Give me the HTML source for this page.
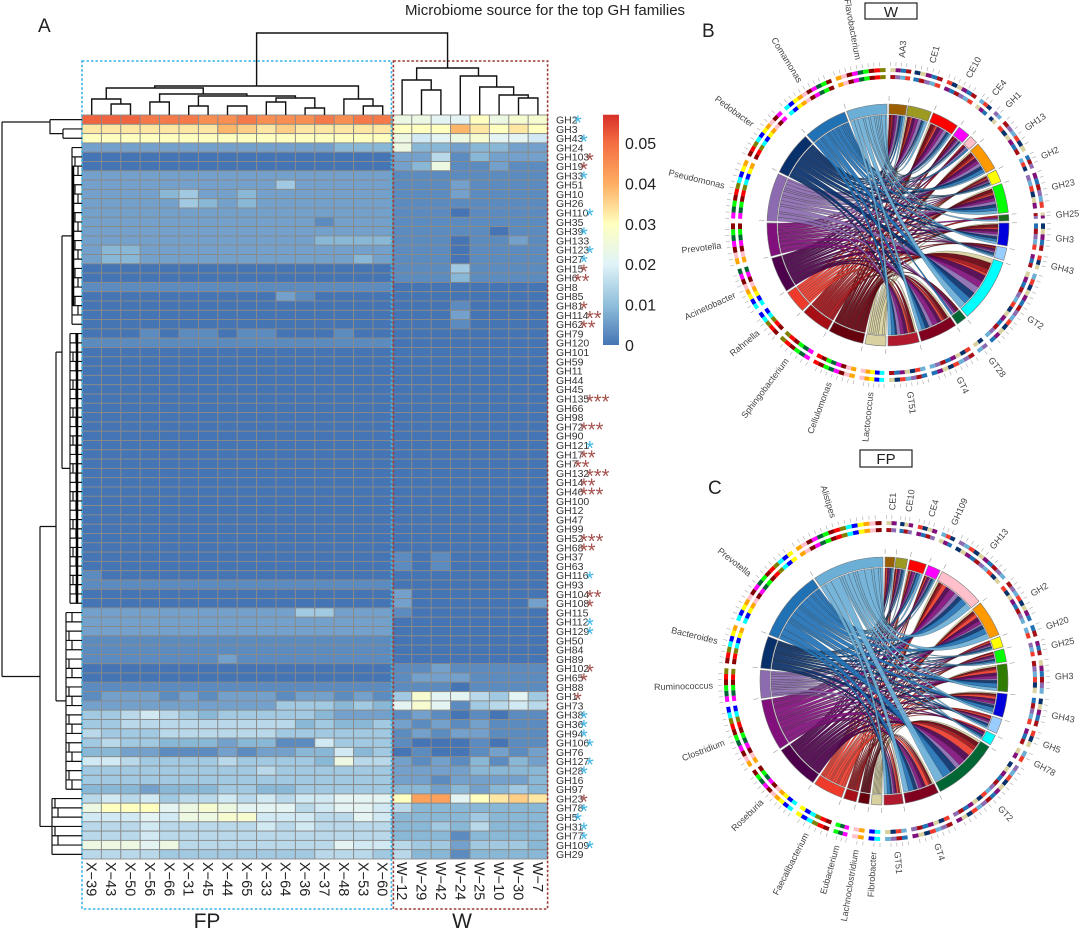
<!DOCTYPE html>
<html><head><meta charset="utf-8"><style>
html,body{margin:0;padding:0;background:#fff;}
svg{display:block;font-family:"Liberation Sans",sans-serif;}
</style></head><body>
<svg id="fig" width="1080" height="929" viewBox="0 0 1080 929" xmlns="http://www.w3.org/2000/svg">
<text x="545" y="15" font-size="15" text-anchor="middle" fill="#222">Microbiome source for the top GH families</text>
<text x="38" y="32" font-size="19" fill="#222">A</text>
<text x="702" y="37" font-size="19" fill="#222">B</text>
<text x="708" y="494" font-size="19" fill="#222">C</text>
<rect x="865" y="3" width="52" height="16" fill="#fff" stroke="#222" stroke-width="1.2"/>
<text x="891" y="17" font-size="15" text-anchor="middle" fill="#222">W</text>
<rect x="860" y="450" width="52" height="17" fill="#fff" stroke="#222" stroke-width="1.2"/>
<text x="886" y="464" font-size="15" text-anchor="middle" fill="#222">FP</text>
<g id="heat"></g>
<g id="chordW"></g>
<g id="chordFP"></g>
</svg>
<script>
// ---------- heatmap data ----------
const rowLabels=["GH2","GH3","GH43","GH24","GH103","GH19","GH33","GH51","GH10","GH26","GH110","GH35","GH39","GH133","GH123","GH27","GH15","GH6","GH8","GH85","GH81","GH114","GH62","GH79","GH120","GH101","GH59","GH11","GH44","GH45","GH135","GH66","GH98","GH72","GH90","GH121","GH17","GH7","GH132","GH14","GH46","GH100","GH12","GH47","GH99","GH52","GH68","GH37","GH63","GH116","GH93","GH104","GH108","GH115","GH112","GH129","GH50","GH84","GH89","GH102","GH65","GH88","GH1","GH73","GH38","GH36","GH94","GH106","GH76","GH127","GH28","GH16","GH97","GH23","GH78","GH5","GH31","GH77","GH109","GH29"];
const colLabels=["X-39","X-43","X-50","X-56","X-66","X-31","X-45","X-44","X-65","X-33","X-64","X-36","X-37","X-48","X-53","X-60","W-12","W-29","W-42","W-24","W-25","W-10","W-30","W-7"];
// each char = value in units of 0.003 (base-36 digit); 16 FP columns then 8 W columns
const fpValues=["hhhgggffgfffgfgg","bbbbbbbdcbcbbbbb","aaaaaaaaaaaaaaaa","2222222222222333","0000000000000000","0000000000000000","2222222222222222","2222222222422222","2222342232222222","2222243232222222","2222222222222222","2222222222221222","2222222222222222","2222222222223333","2332222222222222","2332222222222232","0000000000000000","0000000000000000","1111111111111111","0000000000210000","0000000000000000","0000000000000000","0000000000000000","0001011011000100","1111111111111111","0000000000000000","0000000000000000","0000000000000000","0000000000000000","0000000000000000","0000000000000000","0000000000000000","0000000000000000","0000000000000000","0000000000000000","0000000000000000","0000000000000000","0000000000000000","0000000000000000","0000000000000000","0000000000000000","0000000000000000","0000000000000000","0000000000000000","0000000000000000","0000000000000000","0000000000000000","0000000000000000","0000000000000000","1000000000000000","1111111111111111","0000000000000000","0000000000000000","2222222222244222","2222222222222222","2222222222222222","1111111111111111","1111111111111111","1111111211111111","0000000000000000","0000000000000000","1111111111111111","1222121222122121","2222222222444343","4456543444443222","4455555555534334","5444555555444444","4544333233116444","3322111212233634","6654444544443855","4444444445444444","4444444444444444","3332333443344444","5656455656566777","8aaa789877756776","6667688996665576","5556555556565555","5556555555555555","8887855555555766","5555444444445554"];
const wValues=["8877a899","aaadbaba","86789776","83323322","22513222","23811211","11111111","11121111","11121111","11111111","11101111","11111111","11111011","11101121","11101111","11101111","11141111","11131111","00000000","00000000","00010000","00020000","00010000","00000000","00000000","00000000","00000000","00000000","00000000","00000000","00000000","00000000","00000000","00000000","00000000","00000000","00000000","00000000","00000000","00000000","00000000","00000000","00000000","00000000","00000000","00000000","00000000","10100000","10100000","00000000","00000000","20000000","20000002","10000000","00000000","00000000","00000000","00000000","00000000","11211111","12221111","11101111","49775474","79714565","12101011","21212111","12122111","10001011","01001212","21213132","22223333","22122223","33232343","aee7abcb","53333333","33334333","33435333","33313333","54424443","53313333"];
const rowStars={"GH2":"b1","GH43":"b1","GH103":"r1","GH19":"r1","GH33":"b1","GH110":"b1","GH39":"b1","GH123":"b1","GH27":"b1","GH15":"r1","GH6":"r2","GH81":"r1","GH114":"r2","GH62":"r2","GH135":"r3","GH72":"r3","GH121":"b1","GH17":"r2","GH7":"r2","GH132":"r3","GH14":"r2","GH46":"r3","GH52":"r3","GH68":"r2","GH116":"b1","GH104":"r2","GH108":"r1","GH112":"b1","GH129":"b1","GH102":"r1","GH65":"r1","GH1":"r1","GH38":"b1","GH36":"b1","GH94":"b1","GH106":"b1","GH127":"b1","GH28":"b1","GH23":"r1","GH78":"b1","GH5":"b1","GH31":"b1","GH77":"b1","GH109":"b1"};
const cbTicks=[0,0.01,0.02,0.03,0.04,0.05];

const NS="http://www.w3.org/2000/svg";
function mk(tag,attrs,parent){const e=document.createElementNS(NS,tag);for(const k in attrs)e.setAttribute(k,attrs[k]);parent.appendChild(e);return e;}
const stops=[[0,[69,117,180]],[0.01,[145,191,219]],[0.02,[224,243,248]],[0.03,[255,255,191]],[0.04,[253,174,97]],[0.05,[244,109,67]],[0.057,[215,48,39]]];
function cmap(v){if(v<=0)return "rgb(69,117,180)";for(let i=1;i<stops.length;i++){if(v<=stops[i][0]){const a=stops[i-1],b=stops[i];const t=(v-a[0])/(b[0]-a[0]);const c=a[1].map((x,k)=>Math.round(x+(b[1][k]-x)*t));return `rgb(${c})`;}}return "rgb(215,48,39)";}

const heat=document.getElementById('heat');
const X0=82,Y0=115,CW=19.4,RH=9.3;
const xCol=i=>X0+i*CW, yRow=i=>Y0+i*RH, rc=i=>Y0+i*RH+RH/2;
rowLabels.forEach((lab,r)=>{
  const s=(fpValues[r]+wValues[r]);
  for(let c=0;c<colLabels.length;c++){
    const v=parseInt(s[c]||"0",36)*0.003;
    const el=mk('rect',{x:xCol(c),y:yRow(r),width:CW,height:RH,fill:cmap(v),stroke:'#8a8a8a','stroke-width':0.9},heat);
    
    
  }
  const t=mk('text',{x:556,y:rc(r)+3.8,'font-size':10.5,fill:'#333'},heat);
  t.textContent=lab;
  
  
  const st=rowStars[lab];
  if(st){
    const w=lab.length*6.0;
    const ss=mk('text',{x:556+w,y:rc(r)+10,'font-size':20,fill:st[0]==='b'?'#3fb8ea':'#a4504c'},heat);
    ss.textContent='*'.repeat(+st[1]);
    
    
  }
});
colLabels.forEach((lab,c)=>{
  const x=xCol(c)+CW/2-5;
  const t=mk('text',{x:x,y:862,'font-size':14.5,fill:'#222',transform:`rotate(90 ${x} 862)`},heat);
  t.textContent=lab.replace('-','\u2212');
  
  
});
let b=mk('rect',{x:82,y:61,width:CW*16-1,height:848,fill:'none',stroke:'#39b4e6','stroke-width':1.6,'stroke-dasharray':'2.5,2'},heat);


b=mk('rect',{x:82+CW*16+1,y:61,width:CW*8-1,height:848,fill:'none',stroke:'#9c3a34','stroke-width':1.6,'stroke-dasharray':'2.5,2'},heat);


let gl=mk('text',{x:207,y:928,'font-size':21,'text-anchor':'middle',fill:'#222'},heat);gl.textContent='FP';


gl=mk('text',{x:462,y:928,'font-size':21,'text-anchor':'middle',fill:'#222'},heat);gl.textContent='W';


const defs=mk('defs',{},heat);
const lg=mk('linearGradient',{id:'cbg',x1:0,y1:1,x2:0,y2:0},defs);
stops.forEach(s=>{mk('stop',{offset:(s[0]/0.057*100)+'%','stop-color':`rgb(${s[1]})`},lg);});
const cbY=v=>345-v*4040;
const cb=mk('rect',{x:603,y:cbY(0.057),width:16,height:cbY(0)-cbY(0.057),fill:'url(#cbg)'},heat);


cbTicks.forEach(v=>{const t=mk('text',{x:625,y:cbY(v)+6,'font-size':16,fill:'#222'},heat);t.textContent=v===0?'0':v.toFixed(2);

});

const leafX=i=>xCol(i)+CW/2;
const colMerges=[[1,2,104],[0,24,99],[3,4,102],[5,6,106],[7,8,106],[9,10,102],[11,12,108],[14,15,106],[13,31,99],[29,30,98],[27,33,96],[26,34,94],[25,35,88],[32,36,86],[17,18,90],[16,38,80],[22,23,98],[21,40,95],[20,41,87],[19,42,76],[39,43,68],[37,44,33]];
const nodes=[];for(let i=0;i<24;i++)nodes.push({x:leafX(i),y:115});
let dp='';
colMerges.forEach(m=>{const a=nodes[m[0]],c=nodes[m[1]],h=m[2];dp+=`M${a.x},${a.y}V${h}H${c.x}V${c.y}`;nodes.push({x:(a.x+c.x)/2,y:h});});
let cd=mk('path',{d:dp,fill:'none',stroke:'#111','stroke-width':1.4},heat);


let rp='';
const mid=(a,b)=>(rc(a)+rc(b))/2;
rp+=`M50,${rc(0)}H82M50,${rc(0)}V${mid(1,2)}H63M63,${rc(1)}V${rc(2)}M63,${rc(1)}H82M63,${rc(2)}H82`;
const groups=[[3,22,72],[23,52,70],[53,72,66],[73,79,52]];
groups.forEach(g=>{rp+=`M${g[2]},${rc(g[0])}V${rc(g[1])}`;for(let r=g[0];r<=g[1];r++){const xx=g[2]+((r*7)%3)*3;rp+=`M${g[2]},${rc(r)}H82M${xx},${rc(r)}V${rc(Math.min(r+1,g[1]))}`;}});
const mA=mid(3,22),mB=mid(23,52),mC=mid(53,72),mD=mid(73,79);
rp+=`M62,${mA}H72M62,${mB}H70M62,${mA}V${mB}`;
const mAB=(mA+mB)/2;
rp+=`M56,${mAB}H62M56,${mC}H66M56,${mAB}V${mC}`;
const mABC=(mAB+mC)/2;
rp+=`M40,${mABC}H56M40,${mD}H52M40,${mABC}V${mD}`;
const m4=(mABC+mD)/2;
rp+=`M2,${m4}H40M2,122H50M2,122V${m4}`;
let rd=mk('path',{d:rp,fill:'none',stroke:'#111','stroke-width':1.2},heat);


let thick=mk('path',{d:`M77,${rc(23)}V${rc(52)}M73,${rc(5)}V${rc(20)}`,stroke:'#000','stroke-width':2.5},heat);



// ---------- chord diagrams ----------
const wLeftNames=["Lactococcus","Cellulomonas","Sphingobacterium","Rahnella","Acinetobacter","Prevotella","Pseudomonas","Pedobacter","Comamonas","Flavobacterium"];
const wLeftSpan=[[181,191],[192,209],[210,224],[225,236],[237,254],[255,271],[272,295],[296,317],[318,339],[340,359.5]];
const wLeftColors=["#d9d2a0","#67000d","#a50f15","#ef3b2c","#4d004b","#810f7c","#8c6bb1","#08306b","#2171b5","#6baed6"];
const wRightNames=["AA3","CE1","CE10","CE4","GH1","GH13","GH2","GH23","GH25","GH3","GH43","GT2","GT28","GT4","GT51"];
const wRightSpan=[[0.5,9],[9.5,21],[22,35],[36,42],[43,47],[48,62],[63,69],[70,84],[85,88],[89,100],[101,107],[108,139],[140,145],[146,164],[165,180]];
const wRightColors=["#9c5f00","#9c9a20","#ff0000","#ff00ff","#ffc0cb","#ff9900","#ffff00","#00ff00","#1b6b1b","#0000dd","#99ccff","#00ffff","#006633","#800020","#b0182e"];
const wMatrix=[[0,1,1,0,0,1,1,1,0,1,0,2,0,1,1],[1,1,2,1,0,2,1,2,0,2,1,3,1,2,2],[1,1,1,1,1,1,1,1,1,1,1,2,0,1,1],[0,1,1,0,0,1,1,1,0,1,0,1,0,1,1],[1,2,2,1,1,2,1,2,0,2,1,3,1,2,2],[1,2,2,1,0,2,1,2,1,2,1,3,1,3,2],[1,2,2,1,1,2,1,2,0,2,1,3,1,2,2],[1,1,1,1,0,2,1,2,0,2,1,3,0,2,1],[1,1,1,0,1,2,1,2,0,2,1,3,1,2,2],[1,2,1,1,0,1,1,2,1,2,1,3,0,2,2]];
const fpLeftNames=["Fibrobacter","Lachnoclostridium","Eubacterium","Faecalibacterium","Roseburia","Clostridium","Ruminococcus","Bacteroides","Prevotella","Alistipes"];
const fpLeftSpan=[[181,186],[187,192],[193,199],[200,214],[215,236],[237,261],[262,275],[276,291],[292,325],[326,359.5]];
const fpLeftColors=["#d9d2a0","#67000d","#a50f15","#ef3b2c","#4d004b","#810f7c","#8c6bb1","#08306b","#2171b5","#6baed6"];
const fpRightNames=["CE1","CE10","CE4","GH109","GH13","GH2","GH20","GH25","GH3","GH43","GH5","GH78","GT2","GT4","GT51"];
const fpRightSpan=[[0.5,5],[5.5,11],[12,20],[21,27],[28,50],[51,68],[69,74],[75,81],[82,95],[96,107],[108,115],[116,121],[122,153],[154,170],[171,180]];
const fpRightColors=["#9c5f00","#9c9a20","#ff0000","#ff00ff","#ffc0cb","#ff9900","#ffff00","#00ff00","#2e7d00","#0000dd","#99ccff","#00ffff","#006633","#800020","#b0182e"];
const fpMatrix=[[0,0,1,0,1,1,0,0,1,1,0,0,1,1,1],[0,1,0,1,1,1,0,1,1,1,0,0,2,1,0],[1,0,1,0,1,1,1,0,1,1,1,0,2,1,1],[1,1,1,1,2,2,1,1,2,2,1,1,3,2,1],[1,1,1,1,2,2,1,1,2,2,1,1,3,2,1],[1,1,2,1,3,2,1,1,2,2,1,1,3,2,1],[0,1,1,1,2,1,1,1,1,1,1,0,2,1,1],[1,1,1,1,2,2,1,1,2,2,1,1,3,2,1],[1,1,2,1,3,3,1,1,3,3,1,1,4,3,2],[1,1,2,1,3,3,1,1,2,2,1,1,4,3,2]];

const leftPal=['#00ffff','#800000','#ff0000','#ffa500','#00ff00','#0000ff','#ff00ff','#808000','#ffc0cb','#8b0000','#ffff00','#006633'];
const rightPal=['#6baed6','#2171b5','#08306b','#8c6bb1','#810f7c','#ef3b2c','#a50f15','#d9d2a0'];

function pol(cx,cy,r,d){const a=(d-90)*Math.PI/180;return [cx+r*Math.cos(a),cy+r*Math.sin(a)];}
function arcBand(cx,cy,r1,r2,a,b){const p1=pol(cx,cy,r2,a),p2=pol(cx,cy,r2,b),p3=pol(cx,cy,r1,b),p4=pol(cx,cy,r1,a);const lg=(b-a)>180?1:0;
return `M${p1}A${r2},${r2} 0 ${lg} 1 ${p2}L${p3}A${r1},${r1} 0 ${lg} 0 ${p4}Z`;}

function drawChord(gid,cx,cy,R,lNames,lSpan,lCol,rNames,rSpan,rCol,M,prefix){
  const g=document.getElementById(gid);
  const rIn=R-11;
  const nL=lNames.length,nR=rNames.length;
  const lTot=M.map(r=>r.reduce((a,b)=>a+b,0));
  const rTot=rNames.map((_,j)=>M.reduce((a,r)=>a+r[j],0));
  const lCur=lSpan.map(s=>s[0]), rCur=rSpan.map(s=>s[0]);
  const ribbons=[];
  for(let i=0;i<nL;i++){for(let j=nR-1;j>=0;j--){const w=M[i][j];if(!w)continue;
    const la=(lSpan[i][1]-lSpan[i][0])*w/lTot[i];const a1=lCur[i],a2=a1+la;lCur[i]=a2;ribbons.push({i,j,a1,a2});}}
  ribbons.forEach(rb=>{const w=M[rb.i][rb.j];const ra=(rSpan[rb.j][1]-rSpan[rb.j][0])*w/rTot[rb.j];rb.b1=rCur[rb.j];rb.b2=rb.b1+ra;rCur[rb.j]=rb.b2;});
  ribbons.forEach(rb=>{
    const A1=pol(cx,cy,rIn,rb.a1),A2=pol(cx,cy,rIn,rb.a2),B1=pol(cx,cy,rIn,rb.b1),B2=pol(cx,cy,rIn,rb.b2);
    const d=`M${A1}A${rIn},${rIn} 0 0 1 ${A2}Q${cx},${cy} ${B1}A${rIn},${rIn} 0 0 1 ${B2}Q${cx},${cy} ${A1}Z`;
    const p=mk('path',{d:d,fill:lCol[rb.i],'fill-opacity':0.92,stroke:'#222','stroke-opacity':0.45,'stroke-width':0.5},g);
    
    
  });
  const secs=[];
  lNames.forEach((n,i)=>secs.push([n,lSpan[i],lCol[i],true]));
  rNames.forEach((n,i)=>secs.push([n,rSpan[i],rCol[i],false]));
  secs.forEach((s,k)=>{
    const [n,sp,col,isL]=s;
    const p=mk('path',{d:arcBand(cx,cy,rIn+1,R,sp[0],sp[1]),fill:col,stroke:'#777','stroke-width':0.6},g);
    
    
    const pal=isL?leftPal:rightPal;
    const nseg=Math.max(2,Math.round((sp[1]-sp[0])/2.2));
    const step=(sp[1]-sp[0]-0.8)/nseg;
    for(let q=0;q<nseg;q++){
      const a=sp[0]+0.4+q*step,b2=a+step;
      const c1=pal[(q*5+k*3)%pal.length];
      const c2=pal[(q*5+k*3+(isL?2:1))%pal.length];
      const o1=mk('path',{d:arcBand(cx,cy,R+25,R+29,a,b2),fill:c1},g);
      
      
      const o2=mk('path',{d:arcBand(cx,cy,R+32,R+36,a,b2),fill:isL?c1:c2},g);
      
      
      const t1=pol(cx,cy,R+38,a),t2=pol(cx,cy,R+42,a);
      const tk=mk('line',{x1:t1[0],y1:t1[1],x2:t2[0],y2:t2[1],stroke:'#aaa','stroke-width':0.6},g);
      
      
    }
    const tp=pol(cx,cy,R+3,sp[0]),tq=pol(cx,cy,R+8,sp[0]);
    const tl=mk('line',{x1:tp[0],y1:tp[1],x2:tq[0],y2:tq[1],stroke:'#999','stroke-width':0.6},g);
    
    
    const m=(sp[0]+sp[1])/2;const lp=pol(cx,cy,R+47,m);
    const rot=m<180?m-90:m+90;
    const t=mk('text',{x:lp[0],y:lp[1]+3,'font-size':9,fill:'#444','text-anchor':m<180?'start':'end',transform:`rotate(${rot} ${lp[0]} ${lp[1]})`},g);
    t.textContent=n;
    
    
  });
}
drawChord('chordW',888,225,121,wLeftNames,wLeftSpan,wLeftColors,wRightNames,wRightSpan,wRightColors,wMatrix,'w');
drawChord('chordFP',884,681,124,fpLeftNames,fpLeftSpan,fpLeftColors,fpRightNames,fpRightSpan,fpRightColors,fpMatrix,'fp');
</script>
</body></html>
